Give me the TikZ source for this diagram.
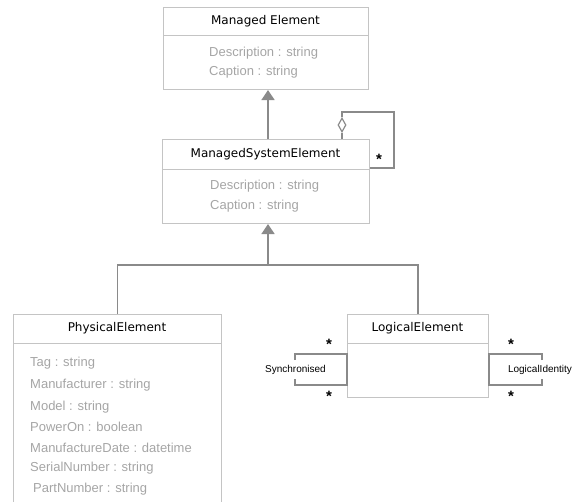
\documentclass[tikz,border=0pt]{standalone}
\usepackage{fontspec}
\setmainfont{Liberation Sans}
\newfontfamily\titlefont{DejaVu Sans}
\usetikzlibrary{arrows.meta,shapes.geometric}

\definecolor{boxgray}{RGB}{196,196,196}
\definecolor{linkgray}{RGB}{138,138,138}
\definecolor{attrgray}{RGB}{165,165,165}

\tikzset{
  umlbox/.style={draw=boxgray, line width=1pt, inner sep=0pt, anchor=north west},
  divider/.style={draw=boxgray, line width=1pt},
  title/.style={font=\titlefont\fontsize{12}{14}\selectfont, text=black, inner sep=0pt},
  attr/.style={font=\fontsize{13}{15}\selectfont, text=attrgray, inner sep=0pt, anchor=west},
  link/.style={draw=linkgray, line width=1.4pt},
  gen/.style={link, -{Triangle[width=13pt,length=10pt]}},
  aggdiamond/.style={diamond, draw=linkgray, fill=white, line width=1.2pt, inner sep=0pt,
                     minimum width=8pt, minimum height=14pt},
  mult/.style={font=\bfseries\fontsize{15}{16}\selectfont, inner sep=0pt, anchor=north},
  rolename/.style={font=\fontsize{10}{12}\selectfont, text=black, inner sep=0pt}
}

\begin{document}
\begin{tikzpicture}[x=1pt, y=-1pt]
  \useasboundingbox (0,0) rectangle (578,501);
  \clip (0,0) rectangle (578,501);

  % Managed Element
  \node[umlbox, minimum width=205pt, minimum height=82pt] (me) at (163,7) {};
  \draw[divider] (me.west |- 0,35) -- (me.east |- 0,35);
  \node[title] (metitle) at (265.5,21) {Managed Element};
  \node[attr] (medesc) at (209,53) {Description : string};
  \node[attr] (mecap) at (209,72) {Caption : string};

  % ManagedSystemElement
  \node[umlbox, minimum width=207pt, minimum height=84pt] (mse) at (162,139) {};
  \draw[divider] (mse.west |- 0,169) -- (mse.east |- 0,169);
  \node[title] (msetitle) at (265.5,154) {ManagedSystemElement};
  \node[attr] (msedesc) at (210,186) {Description : string};
  \node[attr] (msecap) at (210,206) {Caption : string};

  % PhysicalElement (continues past the lower edge)
  \node[umlbox, minimum width=208pt, minimum height=200pt] (pe) at (13,314) {};
  \draw[divider] (pe.west |- 0,343) -- (pe.east |- 0,343);
  \node[title] (petitle) at (117,328) {PhysicalElement};
  \node[attr] (pe1) at (30,363) {Tag : string};
  \node[attr] (pe2) at (30,385) {Manufacturer : string};
  \node[attr] (pe3) at (30,407) {Model : string};
  \node[attr] (pe4) at (30,427) {PowerOn : boolean};
  \node[attr] (pe5) at (30,448) {ManufactureDate : datetime};
  \node[attr] (pe6) at (30,468) {SerialNumber : string};
  \node[attr] (pe7) at (33,489) {PartNumber : string};

  % LogicalElement
  \node[umlbox, minimum width=141pt, minimum height=83pt] (le) at (347,314) {};
  \draw[divider] (le.west |- 0,343) -- (le.east |- 0,343);
  \node[title] (letitle) at (417.5,328) {LogicalElement};

  % Generalisations
  \coordinate (j) at (268,265);
  \draw[gen] (mse.north -| j) -- (me.south -| j);
  \draw[link] (pe.north) |- (j) -| (le.north);
  \draw[gen] (j) -- (mse.south -| j);

  % Self aggregation on ManagedSystemElement
  \node[aggdiamond] (agg) at (342,125) {};
  \coordinate (aggtop) at (342,112);
  \coordinate (aggcorner) at (394,168);
  \draw[link] (mse.north -| agg) -- (agg.south);
  \draw[link] (agg.north) -- (aggtop) -| (aggcorner) -- (mse.east |- aggcorner);
  \node[mult] (aggstar) at (379,154) {*};

  % Synchronised association
  \coordinate (syna) at (295,354);
  \coordinate (synb) at (295,385);
  \draw[link] (295,360) -- (syna) -- (le.west |- syna) -- (le.west |- synb) -- (synb) -- (295,379);
  \node[rolename] (synlabel) at (295.5,369.5) {Synchronised};
  \node[mult] (synstar1) at (329,339) {*};
  \node[mult] (synstar2) at (329,391) {*};

  % LogicalIdentity association
  \coordinate (lida) at (542,354);
  \coordinate (lidb) at (542,385);
  \draw[link] (542,360) -- (lida) -- (le.east |- lida) -- (le.east |- lidb) -- (lidb) -- (542,379);
  \node[rolename] (lidlabel) at (540,369.5) {LogicalIdentity};
  \node[mult] (lidstar1) at (511,339) {*};
  \node[mult] (lidstar2) at (511,391) {*};
\end{tikzpicture}
\end{document}
